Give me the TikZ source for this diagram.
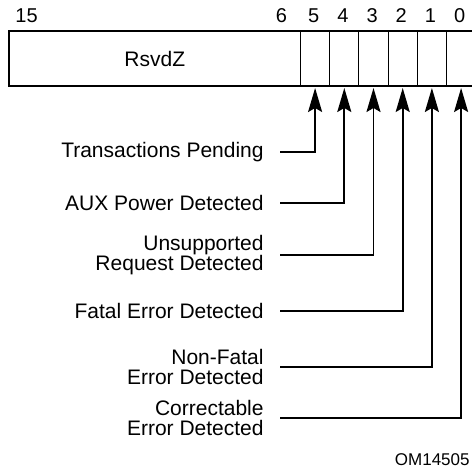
\documentclass[tikz,border=0pt]{standalone}
\usepackage{fontspec}
\setmainfont{Liberation Sans}
\usetikzlibrary{arrows.meta,positioning}

\tikzset{
  field/.style={draw,line width=0.5pt,minimum height=27.5pt,inner sep=0pt,outer sep=0pt},
  cell/.style={field,minimum width=14.6pt},
  bitno/.style={font=\fontsize{10}{10}\selectfont,inner sep=0pt},
  flag/.style={anchor=east,align=right,inner sep=0pt,font=\fontsize{10.5}{10}\selectfont},
  conn/.style={->,line width=0.9pt,shorten >=1pt}
}

\begin{document}
\begin{tikzpicture}[x=0.5pt,y=-0.5pt,>={Stealth[length=12pt,width=7pt,inset=2pt]}]
\useasboundingbox (0,0) rectangle (472,471);
% register fields
\node[field,minimum width=145.75pt] (rsvd) at (154.75,58.5) {\fontsize{10.5}{10}\selectfont RsvdZ};
\node[cell,right=0pt of rsvd] (b5) {};
\foreach \i/\j in {5/4,4/3,3/2,2/1,1/0}
  \node[cell,right=0pt of b\i] (b\j) {};
\draw[line width=1pt] (rsvd.north west) rectangle (b0.south east);
% bit numbers
\node[bitno,anchor=west] (n15) at ([xshift=3pt,yshift=7.5pt]rsvd.north west) {15};
\node[bitno,anchor=east] (n6) at ([xshift=-6.5pt,yshift=7.5pt]rsvd.north east) {6};
\foreach \i in {5,...,0}
  \node[bitno] (n\i) at ([xshift=-0.7pt,yshift=7.5pt]b\i.north) {\i};
% flags
\node[flag] (t5) at (264,152) {Transactions Pending};
\node[flag] (t4) at (264,203) {AUX Power Detected};
\node[flag] (t3) at (264,255) {Unsupported\\Request Detected};
\node[flag] (t2) at (264,311) {Fatal Error Detected};
\node[flag] (t1) at (264,367) {Non-Fatal\\Error Detected};
\node[flag] (t0) at (264,418) {Correctable\\Error Detected};
\foreach \i in {5,...,0}
  \draw[conn] ([xshift=8pt]t\i.east) -| (b\i.south);
\node[bitno,font=\fontsize{8.5}{10}\selectfont,anchor=east] (om) at (470,460) {OM14505};
\end{tikzpicture}
\end{document}
